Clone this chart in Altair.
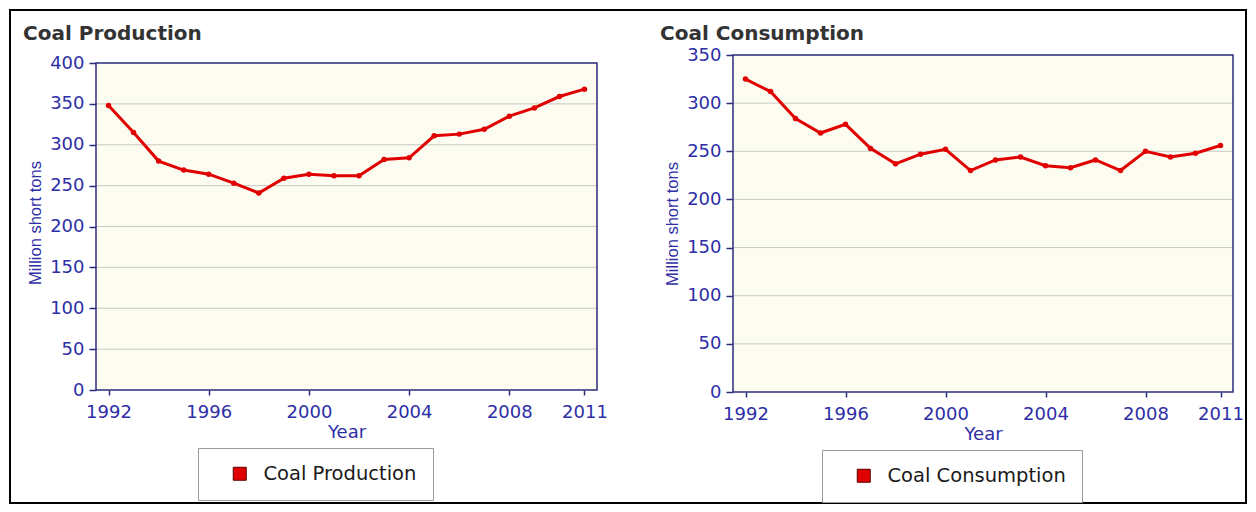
import altair as alt
import pandas as pd

# ---- data ----
years = list(range(1992, 2012))
production = [348, 315, 280, 269, 264, 253, 241, 259, 264, 262, 262, 282, 284,
              311, 313, 319, 335, 345, 359, 368]
consumption = [325, 312, 284, 269, 278, 253, 237, 247, 252, 230, 241, 244, 235,
               233, 241, 230, 250, 244, 248, 256]
x_ticks = [1992, 1996, 2000, 2004, 2008, 2011]
prod_ticks = [0, 50, 100, 150, 200, 250, 300, 350, 400]
cons_ticks = [0, 50, 100, 150, 200, 250, 300, 350]
x_domain = [1991.5, 2011.5]

RED = "#e00000"
NAVY = "#2b2b7c"
BLUE = "#2e2ea6"
PLOT_BG = "#fcfcf0"
GRID = "#c8c8c8"
FONT = "DejaVu Sans"


def panel(name, values, yticks, ydom_top, w, h, lx, ly, title_offset, border=False):
    xs = alt.Scale(domain=x_domain, nice=False, zero=False)
    ys = alt.Scale(domain=[0, ydom_top], nice=False, zero=True)
    xaxis = alt.Axis(values=x_ticks, format="d", title="Year", grid=False, domain=False,
                     tickSize=5, tickColor=NAVY, tickWidth=1.5, labelPadding=8,
                     labelFont=FONT, labelFontSize=18, labelColor=BLUE, labelFlush=False,
                     titleFont=FONT, titleFontSize=18, titleColor=BLUE,
                     titleFontWeight="normal", titlePadding=2)
    yaxis = alt.Axis(values=yticks, title="Million short tons", grid=False, domain=False,
                     tickSize=7, tickColor=NAVY, tickWidth=1.5, labelPadding=5,
                     labelFont=FONT, labelFontSize=18, labelColor=BLUE,
                     titleFont="Liberation Sans", titleFontSize=16.5, titleColor=BLUE,
                     titleFontWeight="normal", titlePadding=6)
    xenc = alt.X("Year:Q", scale=xs, axis=xaxis)
    yenc = alt.Y("value:Q", scale=ys, axis=yaxis)

    df = pd.DataFrame({"Year": years, "value": values, "series": name})
    box = pd.DataFrame({"Year": [x_domain[0]], "Year2": [x_domain[1]],
                        "value": [0], "value2": [yticks[-1]]})
    grid_df = pd.DataFrame({"Year": x_domain[0], "Year2": x_domain[1],
                            "value": yticks[1:-1]})

    bg = alt.Chart(box).mark_rect(fill=PLOT_BG).encode(
        x=xenc, x2="Year2:Q", y=yenc, y2="value2:Q")
    grid = alt.Chart(grid_df).mark_rule(color=GRID, strokeWidth=1).encode(
        x=xenc, x2="Year2:Q", y=yenc)
    frame = alt.Chart(box).mark_rect(fillOpacity=0, stroke=NAVY, strokeWidth=1.5).encode(
        x=xenc, x2="Year2:Q", y=yenc, y2="value2:Q")
    line = alt.Chart(df).mark_line(color=RED, strokeWidth=3).encode(x=xenc, y=yenc)
    pts = alt.Chart(df).mark_point(filled=True, size=30, opacity=1).encode(
        x=xenc, y=yenc,
        color=alt.Color("series:N", scale=alt.Scale(domain=[name], range=[RED]),
                        legend=alt.Legend(title=None, orient="none", legendX=lx, legendY=ly,
                                          padding=16, strokeColor="#9a9a9a", fillColor="white",
                                          symbolType="square", symbolSize=169,
                                          symbolOffset=16, labelOffset=14,
                                          symbolStrokeColor="#5a0000", symbolStrokeWidth=1,
                                          labelLimit=400,
                                          labelFont=FONT, labelFontSize=19.5,
                                          labelColor="#1a1a1a")))
    layers = [bg, grid, frame, line, pts]
    if border:
        bd = alt.Chart(box).mark_rect(fillOpacity=0, stroke="black", strokeWidth=2).encode(
            x=alt.value(-86), x2=alt.value(1150), y=alt.value(-45), y2=alt.value(448))
        layers = [bd] + layers
    return alt.layer(*layers).properties(
        width=w, height=h,
        title=alt.TitleParams(name, anchor="start", frame="group", dx=-73,
                              offset=title_offset, baseline="alphabetic",
                              font=FONT, fontSize=20, fontWeight="bold", color="#333333"))


left = panel("Coal Production", production, prod_ticks, 400 * 335 / 327, 501, 335,
             102, 393, -51, border=True)
right = panel("Coal Consumption", consumption, cons_ticks, 350, 500, 337,
              89, 395, -14)

chart = alt.hconcat(left, right, spacing=136, bounds="flush").resolve_scale(
    color="independent", x="independent", y="independent"
).configure_view(stroke="transparent").properties(padding=0, background="white")

chart.save("out.html", embed_options={"renderer": "svg", "actions": False})
